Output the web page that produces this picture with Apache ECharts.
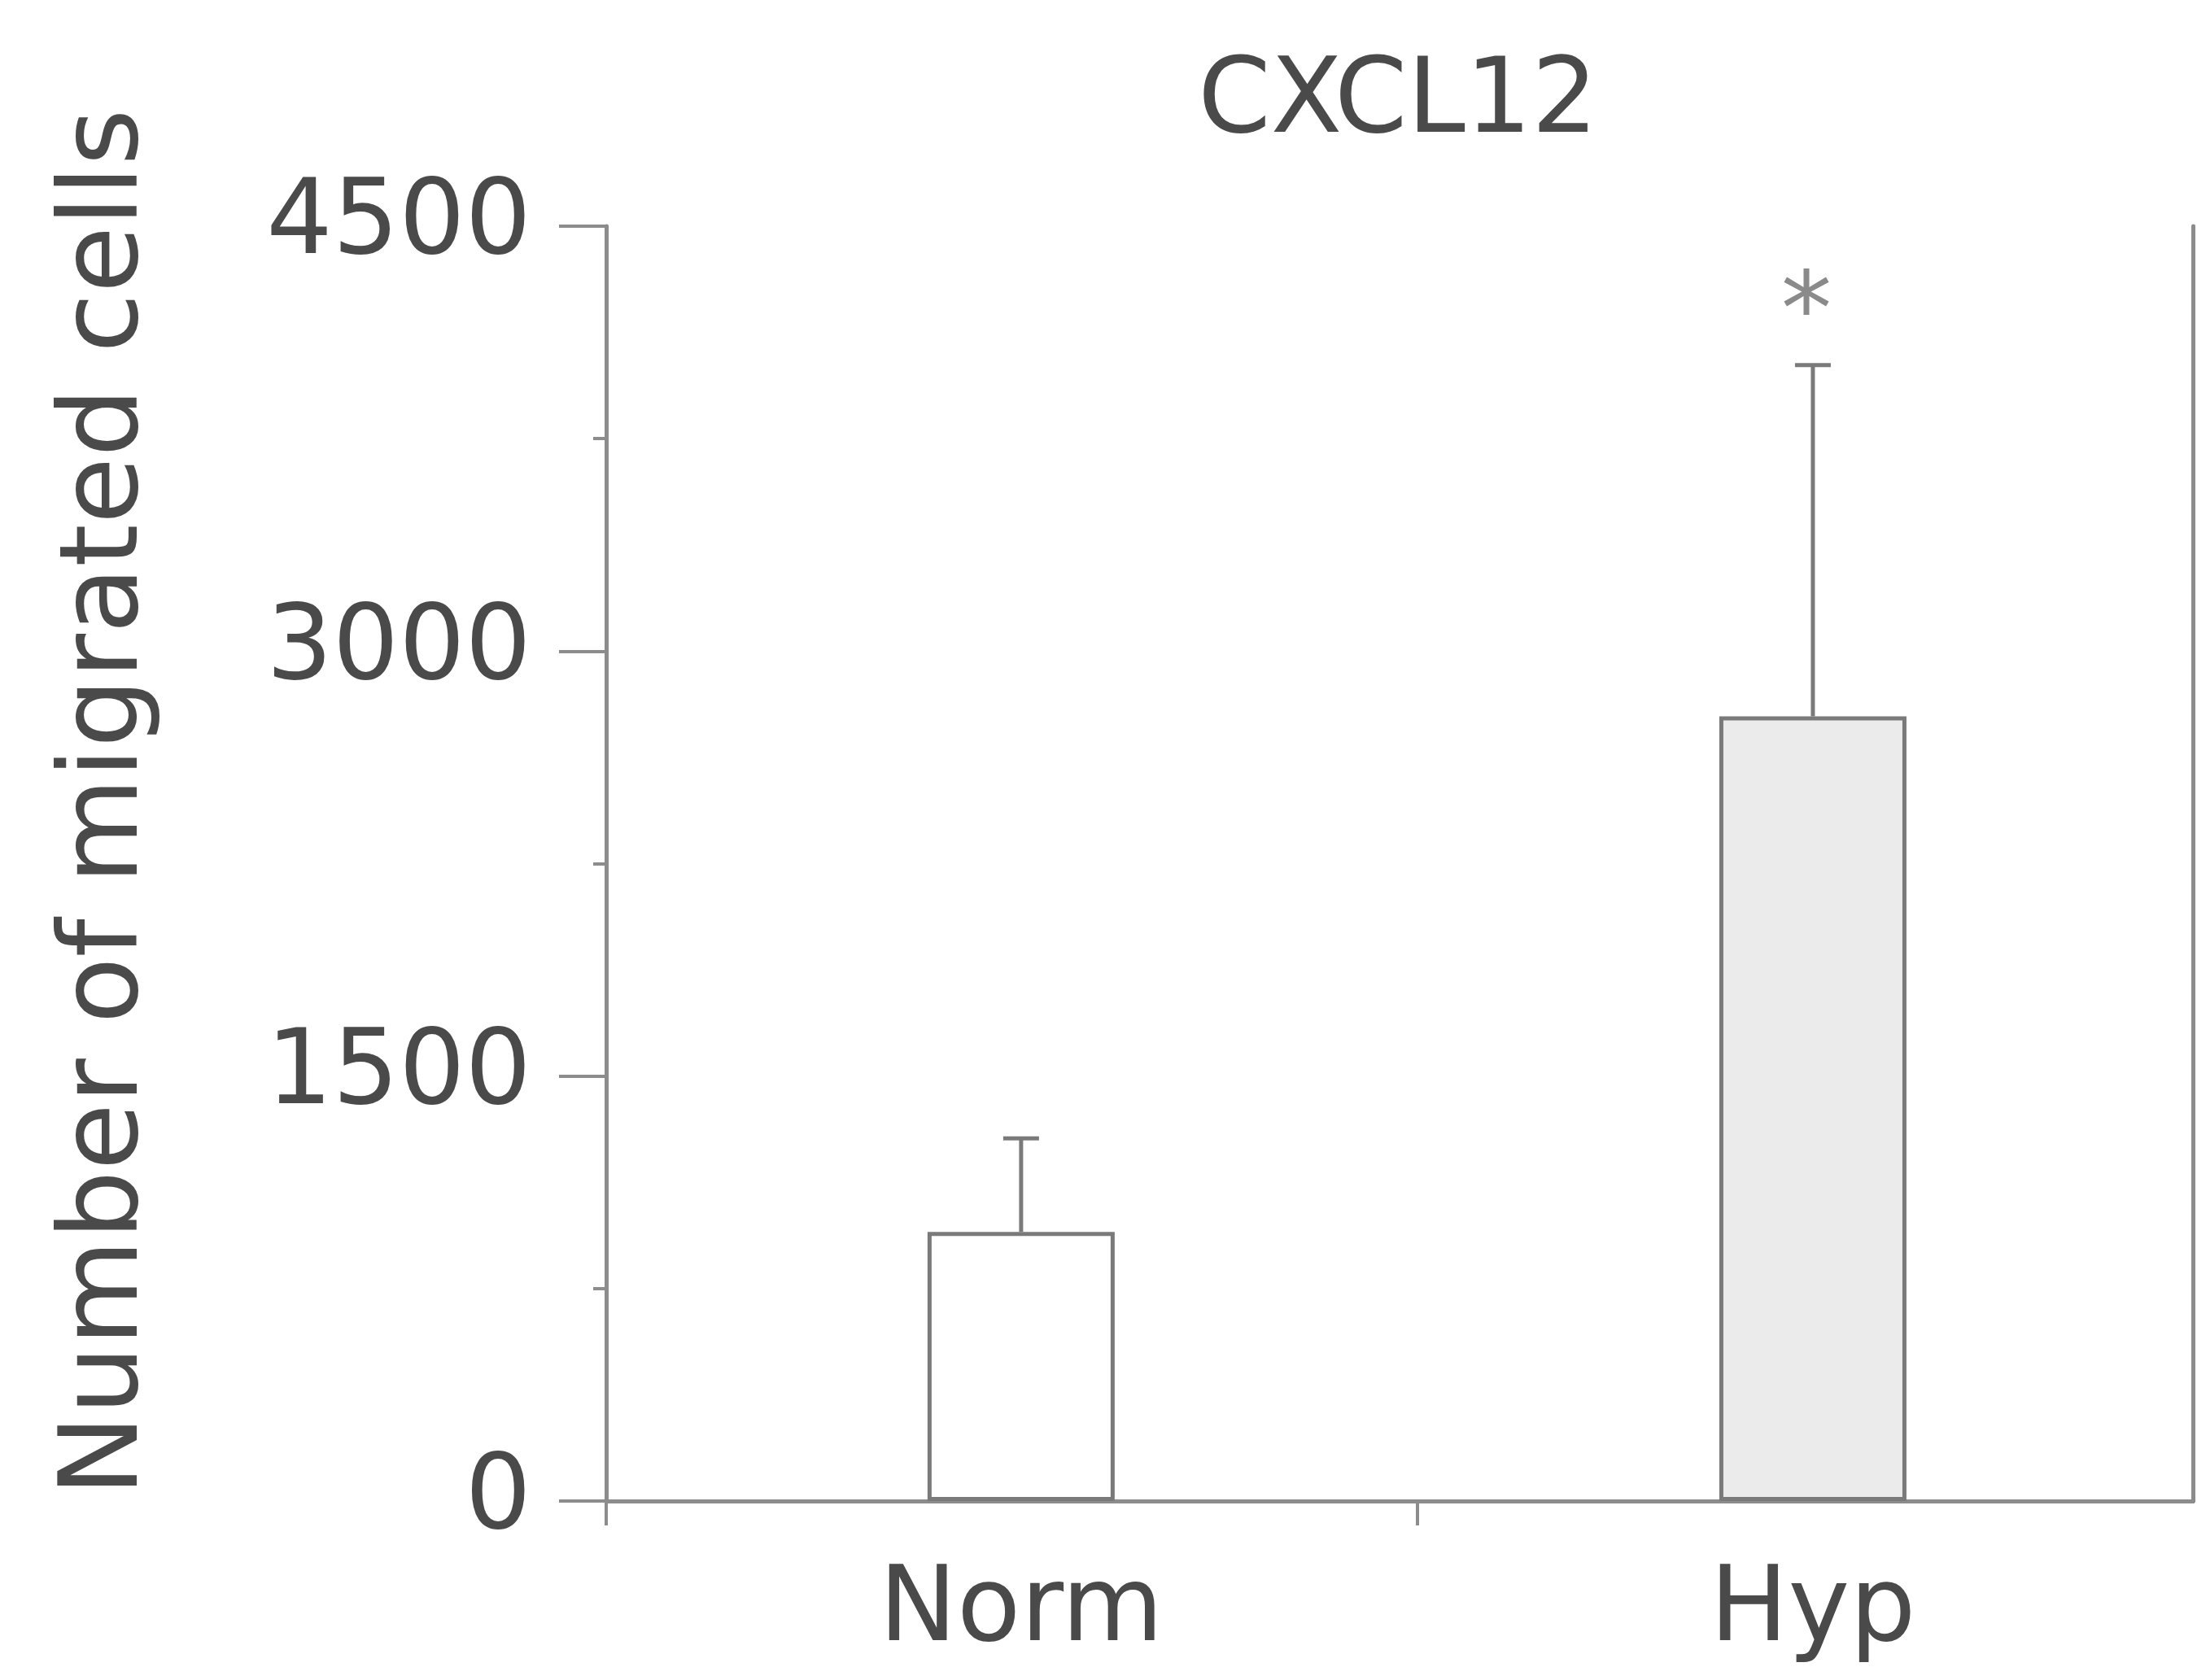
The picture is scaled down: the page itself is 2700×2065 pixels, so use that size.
<!DOCTYPE html>
<html lang="en">
<head>
    <meta charset="UTF-8">
    <title>CXCL12 migration</title>
    <script src="https://cdn.jsdelivr.net/npm/echarts@6/dist/echarts.min.js"></script>
    <style>
        html, body {
            margin: 0;
            padding: 0;
            background: #ffffff;
        }
        #chart {
            width: 2700px;
            height: 2065px;
        }
    </style>
</head>
<body>
<div id="chart"></div>
<script>
    // values
    const categories = ['Norm', 'Hyp'];
    const categoryPos = [1, 2];
    const means = [950, 2770];
    const errors = [330, 1240];
    const significance = ['', '*'];
    const barFills = ['#ffffff', '#ebebeb'];

    const axisColor = '#8c8c8c';
    const textColor = '#4a4a4a';
    const font = 'DejaVu Sans';

    var chart = echarts.init(document.getElementById('chart'));

    var barData = means.map(function (v, i) {
        return {
            value: [categoryPos[i], v],
            itemStyle: { color: barFills[i] }
        };
    });
    var errData = means.map(function (v, i) {
        return [categoryPos[i], v, errors[i], i];
    });

    var option = {
        backgroundColor: '#ffffff',
        animation: false,
        title: {
            text: 'CXCL12',
            left: 1713,
            top: 60,
            textAlign: 'center',
            textStyle: {
                fontFamily: font,
                fontSize: 128,
                fontWeight: 'normal',
                color: textColor
            }
        },
        grid: {
            left: 745,
            right: 5,
            top: 278,
            bottom: 220,
            containLabel: false,
            outerBoundsMode: 'none'
        },
        xAxis: [
            {
                type: 'value',
                min: 0.476,
                max: 2.48,
                splitLine: { show: false },
                axisLine: { lineStyle: { color: axisColor, width: 5 } },
                axisTick: {
                    show: true,
                    length: 30,
                    customValues: [0.476, 1.5],
                    lineStyle: { color: axisColor, width: 4 }
                },
                axisLabel: {
                    customValues: categoryPos,
                    margin: 74,
                    fontFamily: font,
                    fontSize: 128,
                    color: textColor,
                    formatter: function (v) {
                        var i = categoryPos.indexOf(v);
                        return i >= 0 ? categories[i] : '';
                    }
                }
            },
            {
                type: 'value',
                position: 'top',
                min: 0.476,
                max: 2.48,
                splitLine: { show: false },
                axisLine: { show: true, lineStyle: { color: axisColor, width: 5 } },
                axisTick: { show: false },
                axisLabel: { show: false }
            }
        ],
        yAxis: [
            {
                type: 'value',
                min: 0,
                max: 4500,
                interval: 1500,
                name: 'Number of migrated cells',
                nameLocation: 'middle',
                nameGap: 545,
                nameRotate: 90,
                nameTextStyle: {
                    fontFamily: font,
                    fontSize: 134,
                    color: textColor,
                    padding: [0, 0, 0, 150]
                },
                splitLine: { show: false },
                axisLine: { show: true, lineStyle: { color: axisColor, width: 5 } },
                axisTick: {
                    show: true,
                    length: 58,
                    lineStyle: { color: axisColor, width: 4 }
                },
                minorTick: {
                    show: true,
                    splitNumber: 2,
                    length: 16,
                    lineStyle: { color: axisColor, width: 4 }
                },
                axisLabel: {
                    margin: 92,
                    fontFamily: font,
                    fontSize: 128,
                    color: textColor,
                    formatter: function (v) { return String(v); }
                }
            },
            {
                type: 'value',
                position: 'right',
                min: 0,
                max: 4500,
                splitLine: { show: false },
                axisLine: { show: true, lineStyle: { color: axisColor, width: 5 } },
                axisTick: { show: false },
                axisLabel: { show: false }
            }
        ],
        series: [
            {
                type: 'bar',
                data: barData,
                barWidth: 230,
                itemStyle: {
                    borderColor: '#7a7a7a',
                    borderWidth: 5
                },
                z: 2
            },
            {
                type: 'custom',
                data: errData,
                z: 3,
                renderItem: function (params, api) {
                    var x = api.value(0);
                    var m = api.value(1);
                    var e = api.value(2);
                    var idx = api.value(3);
                    var base = api.coord([x, m]);
                    var top = api.coord([x, m + e]);
                    var cap = 22;
                    var style = { stroke: '#7a7a7a', lineWidth: 5 };
                    var children = [
                        { type: 'line', shape: { x1: top[0], y1: base[1], x2: top[0], y2: top[1] }, style: style },
                        { type: 'line', shape: { x1: top[0] - cap, y1: top[1], x2: top[0] + cap, y2: top[1] }, style: style }
                    ];
                    if (significance[idx]) {
                        children.push({
                            type: 'text',
                            style: {
                                x: top[0] - 8,
                                y: top[1] - 58,
                                text: significance[idx],
                                font: '125px "DejaVu Sans"',
                                fill: '#8a8a8a',
                                align: 'center',
                                verticalAlign: 'middle'
                            }
                        });
                    }
                    return { type: 'group', children: children };
                }
            }
        ]
    };

    chart.setOption(option);
</script>
</body>
</html>
